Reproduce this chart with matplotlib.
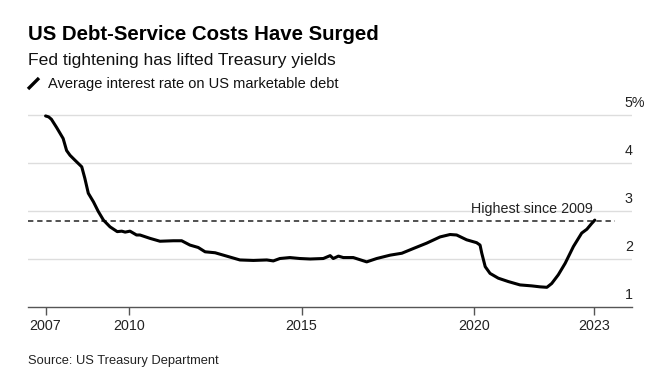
import matplotlib.pyplot as plt

plt.rcParams["font.family"] = ["Liberation Sans", "DejaVu Sans"]

# --- Data (decimal year, average interest rate %) ---
years = [
    2007.57, 2007.66, 2007.74, 2007.89, 2008.08, 2008.18, 2008.28, 2008.42,
    2008.62, 2008.71, 2008.81, 2008.96, 2009.10, 2009.25, 2009.44, 2009.65,
    2009.78, 2009.88, 2010.02, 2010.21, 2010.31, 2010.60, 2010.89, 2011.28,
    2011.52, 2011.76, 2012.00, 2012.20, 2012.49, 2012.73, 2012.97, 2013.21,
    2013.60, 2013.99, 2014.18, 2014.37, 2014.66, 2014.95, 2015.25, 2015.63,
    2015.83, 2015.92, 2016.07, 2016.21, 2016.50, 2016.89, 2017.18, 2017.57,
    2017.91, 2018.25, 2018.63, 2019.02, 2019.31, 2019.50, 2019.79, 2020.08,
    2020.18, 2020.23, 2020.33, 2020.47, 2020.71, 2021.00, 2021.34, 2021.68,
    2021.92, 2022.12, 2022.26, 2022.45, 2022.65, 2022.89, 2023.13, 2023.28,
    2023.42, 2023.51,
]
rates = [
    4.98, 4.96, 4.91, 4.74, 4.51, 4.26, 4.16, 4.06,
    3.92, 3.68, 3.37, 3.19, 2.99, 2.81, 2.67, 2.57,
    2.58, 2.56, 2.58, 2.50, 2.50, 2.43, 2.37, 2.38,
    2.38, 2.29, 2.24, 2.15, 2.13, 2.08, 2.03, 1.98,
    1.97, 1.98, 1.96, 2.01, 2.03, 2.01, 2.00, 2.01,
    2.07, 2.01, 2.06, 2.03, 2.03, 1.94, 2.01, 2.08,
    2.12, 2.22, 2.33, 2.46, 2.51, 2.50, 2.40, 2.34,
    2.29, 2.12, 1.84, 1.70, 1.60, 1.53, 1.46, 1.44,
    1.42, 1.41, 1.49, 1.67, 1.91, 2.26, 2.54, 2.62,
    2.74, 2.81,
]
highest_level = 2.8
x_tick_pos = [2007.57, 2010, 2015, 2020, 2023.49]
x_tick_labels = ["2007", "2010", "2015", "2020", "2023"]
y_ticks = [2, 3, 4, 5]
y_labels = ["1", "2", "3", "4", "5%"]

W, H = 669, 377
fig = plt.figure(figsize=(W / 100, H / 100), dpi=100)
ax = fig.add_axes([28 / W, (H - 307) / H, 604 / W, 202 / H])
ax.set_xlim(2007.06, 2024.59)
ax.set_ylim(1, 5.208)

for y in y_ticks:
    ax.axhline(y, color="#dddddd", lw=1, zorder=0)

ax.plot(years, rates, color="black", lw=2.2, solid_capstyle="round",
        solid_joinstyle="round", zorder=3)
ax.plot([2007.06, 2024.1], [highest_level, highest_level], color="#222222",
        lw=1.1, ls=(0, (3.5, 2.5)), zorder=2)
ax.text(2023.45, highest_level + 0.1, "Highest since 2009", ha="right",
        va="bottom", fontsize=10.3, color="#222222")

# y labels sit just above their gridlines, on the right
for v, lab in zip([1, 2, 3, 4, 5], y_labels):
    ax.text(2024.38, v + 0.25, lab, ha="left", va="center", fontsize=10.3,
            color="#222222")

for s in ["top", "right", "left"]:
    ax.spines[s].set_visible(False)
ax.spines["bottom"].set_color("#555555")
ax.spines["bottom"].set_linewidth(1)
ax.set_yticks([])
ax.set_xticks(x_tick_pos)
ax.set_xticklabels(x_tick_labels)
ax.tick_params(axis="x", length=6, width=1, color="#555555", labelsize=10.3,
               labelcolor="#222222", pad=3)

fig.text(28 / W, 1 - 40 / H, "US Debt-Service Costs Have Surged",
         fontsize=14.7, fontweight="bold", color="black", va="baseline")
fig.text(28 / W, 1 - 65 / H, "Fed tightening has lifted Treasury yields",
         fontsize=12.6, color="#111111", va="baseline")
fig.add_artist(plt.Line2D([28 / W, 39 / W], [1 - 89 / H, 1 - 78 / H],
                          color="black", lw=2.4, solid_capstyle="butt"))
fig.text(48 / W, 1 - 88 / H, "Average interest rate on US marketable debt",
         fontsize=10.5, color="#111111", va="baseline")
fig.text(28 / W, 1 - 364 / H, "Source: US Treasury Department",
         fontsize=9.3, color="#222222", va="baseline")

fig.savefig("out.png", dpi=100)
